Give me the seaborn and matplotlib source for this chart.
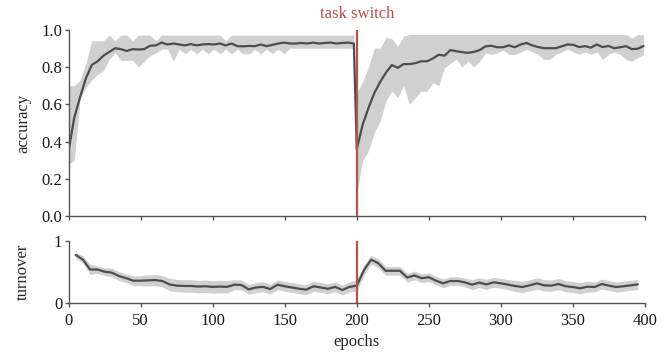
import numpy as np
import matplotlib
matplotlib.use("Agg")
import matplotlib.pyplot as plt
import seaborn as sns

# ---------------- data ----------------
acc_epochs_1 = np.linspace(0, 198, 50)
acc_epochs_2 = np.linspace(200, 399, 50)

acc_mean_1 = [0.35, 0.53, 0.64, 0.74, 0.81, 0.83, 0.86, 0.88, 0.90, 0.895,
              0.885, 0.895, 0.893, 0.895, 0.913, 0.915, 0.93, 0.92, 0.925, 0.92,
              0.915, 0.922, 0.915, 0.92, 0.922, 0.92, 0.925, 0.915, 0.925, 0.911,
              0.91, 0.912, 0.911, 0.92, 0.911, 0.918, 0.925, 0.93, 0.925, 0.925,
              0.928, 0.925, 0.93, 0.925, 0.928, 0.93, 0.925, 0.928, 0.93, 0.925]
acc_hi_1 = [0.70, 0.70, 0.73, 0.82, 0.94, 0.94, 0.94, 0.97, 0.94, 0.97,
            0.97, 0.94, 0.97, 0.97, 0.97, 0.94, 0.97, 0.97, 0.97, 0.97,
            0.97, 0.97, 0.97, 0.97, 0.97, 0.97, 0.97, 0.94, 0.97, 0.97,
            0.97, 0.97, 0.97, 0.97, 0.97, 0.97, 0.97, 0.97, 0.97, 0.97,
            0.97, 0.97, 0.97, 0.97, 0.97, 0.97, 0.97, 0.97, 0.97, 0.97]
acc_lo_1 = [0.28, 0.30, 0.63, 0.69, 0.73, 0.76, 0.78, 0.84, 0.875, 0.835,
            0.835, 0.835, 0.80, 0.83, 0.86, 0.875, 0.895, 0.895, 0.83, 0.895,
            0.87, 0.895, 0.87, 0.895, 0.87, 0.895, 0.87, 0.895, 0.87, 0.895,
            0.87, 0.87, 0.895, 0.87, 0.895, 0.87, 0.895, 0.87, 0.90, 0.90,
            0.90, 0.90, 0.90, 0.90, 0.90, 0.90, 0.90, 0.90, 0.90, 0.90]

acc_mean_2 = [0.36, 0.49, 0.58, 0.66, 0.72, 0.77, 0.81, 0.795, 0.815, 0.815,
              0.82, 0.83, 0.83, 0.845, 0.865, 0.86, 0.89, 0.884, 0.879, 0.875,
              0.88, 0.89, 0.91, 0.913, 0.905, 0.905, 0.915, 0.905, 0.92, 0.928,
              0.915, 0.906, 0.90, 0.90, 0.90, 0.91, 0.92, 0.918, 0.906, 0.911,
              0.903, 0.92, 0.906, 0.912, 0.90, 0.905, 0.911, 0.895, 0.897, 0.912]
acc_hi_2 = [0.66, 0.72, 0.80, 0.90, 0.90, 0.96, 0.95, 0.91, 0.965, 0.973,
            0.973, 0.973, 0.973, 0.973, 0.973, 0.973, 0.973, 0.973, 0.973, 0.973,
            0.973, 0.973, 0.973, 0.973, 0.973, 0.973, 0.973, 0.973, 0.973, 0.973,
            0.973, 0.973, 0.973, 0.973, 0.973, 0.973, 0.973, 0.973, 0.973, 0.973,
            0.973, 0.973, 0.973, 0.973, 0.973, 0.973, 0.973, 0.955, 0.973, 0.973]
acc_lo_2 = [0.12, 0.30, 0.35, 0.45, 0.51, 0.62, 0.67, 0.635, 0.70, 0.60,
            0.635, 0.67, 0.67, 0.715, 0.70, 0.795, 0.82, 0.84, 0.80, 0.83,
            0.80, 0.83, 0.875, 0.867, 0.875, 0.89, 0.867, 0.867, 0.88, 0.895,
            0.88, 0.867, 0.84, 0.84, 0.867, 0.88, 0.895, 0.88, 0.867, 0.88,
            0.867, 0.88, 0.84, 0.867, 0.88, 0.867, 0.84, 0.83, 0.85, 0.867]

turn_epochs_1 = np.arange(5, 205, 5)
turn_epochs_2 = np.arange(200, 400, 5)
turn_mean_1 = [0.774, 0.70, 0.54, 0.54, 0.505, 0.49, 0.435, 0.40, 0.36, 0.36,
               0.365, 0.37, 0.355, 0.30, 0.28, 0.275, 0.275, 0.265, 0.27, 0.26,
               0.265, 0.26, 0.295, 0.29, 0.22, 0.25, 0.26, 0.225, 0.295, 0.27,
               0.25, 0.23, 0.215, 0.27, 0.25, 0.23, 0.26, 0.21, 0.26, 0.28]
turn_half_1 = [0.05, 0.06, 0.08, 0.06, 0.06, 0.07, 0.07, 0.07, 0.08, 0.08,
               0.09, 0.09, 0.09, 0.10, 0.10, 0.10, 0.10, 0.10, 0.10, 0.10,
               0.10, 0.10, 0.08, 0.08, 0.08, 0.08, 0.08, 0.08, 0.08, 0.08,
               0.08, 0.08, 0.08, 0.08, 0.08, 0.08, 0.08, 0.08, 0.08, 0.09]
turn_mean_2 = [0.28, 0.53, 0.70, 0.64, 0.52, 0.52, 0.52, 0.41, 0.445, 0.40,
               0.415, 0.36, 0.317, 0.355, 0.355, 0.333, 0.296, 0.328, 0.30, 0.333,
               0.317, 0.296, 0.274, 0.258, 0.285, 0.317, 0.285, 0.28, 0.306, 0.27,
               0.258, 0.237, 0.263, 0.258, 0.306, 0.28, 0.258, 0.27, 0.285, 0.30]
turn_half_2 = [0.09, 0.08, 0.07, 0.07, 0.07, 0.07, 0.07, 0.07, 0.07, 0.07,
               0.07, 0.07, 0.07, 0.07, 0.07, 0.07, 0.08, 0.08, 0.08, 0.08,
               0.08, 0.08, 0.09, 0.09, 0.09, 0.09, 0.09, 0.09, 0.09, 0.09,
               0.09, 0.09, 0.09, 0.08, 0.08, 0.08, 0.08, 0.08, 0.08, 0.08]

switch_epoch = 200
x_ticks = [0, 50, 100, 150, 200, 250, 300, 350, 400]

# ---------------- style ----------------
sns.set_theme(style="ticks")
plt.rcParams["font.family"] = ["Liberation Serif", "DejaVu Serif"]
plt.rcParams["font.size"] = 12

LINE = "#4d4d4d"
BAND = "#d0d0d0"
RED = "#b5524a"
SPINE = "#555555"

fig = plt.figure(figsize=(6.71, 3.56), dpi=100)
ax1 = fig.add_axes([68.5 / 671, 1 - 216.5 / 356, 576.5 / 671, 187 / 356])
ax2 = fig.add_axes([68.5 / 671, 1 - 303 / 356, 576.5 / 671, 62 / 356])

# accuracy
ax1.fill_between(acc_epochs_1, acc_lo_1, acc_hi_1, color=BAND, lw=0)
ax1.fill_between(acc_epochs_2, acc_lo_2, acc_hi_2, color=BAND, lw=0)
acc_x = np.concatenate([acc_epochs_1, acc_epochs_2])
acc_y = np.concatenate([acc_mean_1, acc_mean_2])
sns.lineplot(x=acc_x, y=acc_y, ax=ax1, color=LINE, lw=1.6)
ax1.axvline(switch_epoch, color=RED, lw=1.6)

# turnover
ax2.fill_between(turn_epochs_1, np.array(turn_mean_1) - turn_half_1,
                 np.array(turn_mean_1) + turn_half_1, color=BAND, lw=0)
ax2.fill_between(turn_epochs_2, np.array(turn_mean_2) - turn_half_2,
                 np.array(turn_mean_2) + turn_half_2, color=BAND, lw=0)
t_x = np.concatenate([turn_epochs_1, turn_epochs_2[1:]])
t_y = np.concatenate([turn_mean_1, turn_mean_2[1:]])
sns.lineplot(x=t_x, y=t_y, ax=ax2, color=LINE, lw=1.6)
ax2.axvline(switch_epoch, color=RED, lw=1.6)

for ax in (ax1, ax2):
    sns.despine(ax=ax)
    ax.set_xlim(0, 400)
    ax.set_ylim(0, 1)
    ax.set_xticks(x_ticks)
    for s in ("left", "bottom"):
        ax.spines[s].set_color(SPINE)
        ax.spines[s].set_linewidth(1.0)
    ax.tick_params(direction="out", length=3, width=1.0, color=SPINE,
                   labelsize=12, labelcolor="#1a1a1a", pad=1.5)
    ax.patch.set_alpha(0)

ax1.set_yticks([0.0, 0.2, 0.4, 0.6, 0.8, 1.0])
ax1.set_yticklabels(["0.0", "0.2", "0.4", "0.6", "0.8", "1.0"])
ax1.set_xticklabels([])
ax1.set_ylabel("accuracy", fontsize=12)
ax1.yaxis.set_label_coords(-0.065, 0.5)

ax2.set_yticks([0, 1])
ax2.set_yticklabels(["0", "1"])
ax2.set_xticklabels([str(t) for t in x_ticks])
ax2.tick_params(axis="x", pad=4)
ax2.set_ylabel("turnover", fontsize=12)
ax2.yaxis.set_label_coords(-0.065, 0.5)
ax2.set_xlabel("epochs", fontsize=12, labelpad=4)

ax1.text(switch_epoch, 1.04, "task switch", color=RED, fontsize=12,
         ha="center", va="bottom", transform=ax1.get_xaxis_transform())

fig.savefig("out.png", dpi=100)
